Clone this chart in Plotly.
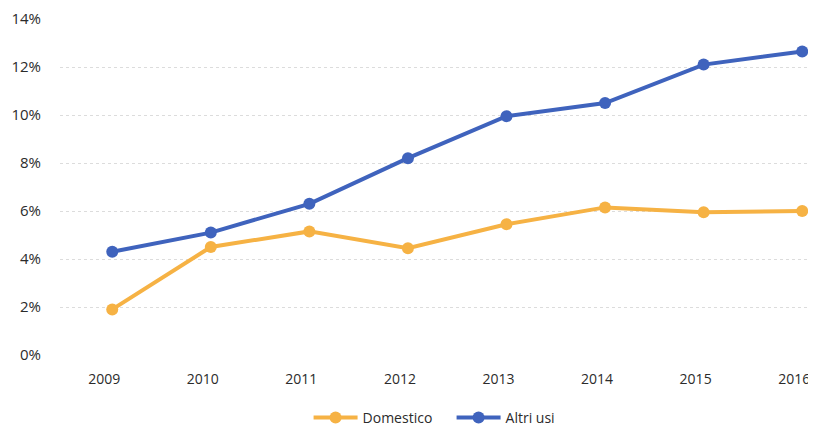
import plotly.graph_objects as go

years = ["2009", "2010", "2011", "2012", "2013", "2014", "2015", "2016"]
domestico = [1.9, 4.5, 5.15, 4.45, 5.45, 6.15, 5.95, 6.0]
altri_usi = [4.3, 5.1, 6.3, 8.2, 9.95, 10.5, 12.1, 12.65]
y_ticks = [0, 2, 4, 6, 8, 10, 12, 14]
y_labels = [f"{v}%" for v in y_ticks]

orange = "#F6B244"
blue = "#3F63BD"

fig = go.Figure()
fig.add_trace(go.Scatter(x=years, y=domestico, name="Domestico", mode="lines+markers",
                         line=dict(color=orange, width=4), marker=dict(size=12, color=orange),
                         cliponaxis=False))
fig.add_trace(go.Scatter(x=years, y=altri_usi, name="Altri usi", mode="lines+markers",
                         line=dict(color=blue, width=4), marker=dict(size=12, color=blue),
                         cliponaxis=False))

# page body has an 8px margin, so the figure is 808x420 and offset by 8px
fig.update_layout(
    width=808, height=420,
    margin=dict(l=52, r=0, t=11, b=73, autoexpand=False),
    paper_bgcolor="white", plot_bgcolor="white",
    font=dict(family="Open Sans, sans-serif", size=15, color="#2b2b2b"),
    showlegend=True,
    legend=dict(orientation="h", x=0.372, xanchor="left", xref="container",
                y=0.024, yanchor="middle", yref="container",
                itemwidth=44, entrywidth=84, entrywidthmode="pixels",
                font=dict(size=14, color="#2b2b2b")),
    xaxis=dict(type="category", range=[-0.53, 7.14], showgrid=False, zeroline=False,
               showline=False, automargin=False, ticklabelstandoff=14, ticklabelshift=-8,
               tickfont=dict(size=14)),
    yaxis=dict(range=[0, 14], tickvals=y_ticks, ticktext=y_labels, showgrid=True,
               gridcolor="#dcdcdc", griddash="dot", gridwidth=1, zeroline=False,
               showline=False, automargin=False, ticklabelstandoff=18),
)

fig.write_html("out.html")
